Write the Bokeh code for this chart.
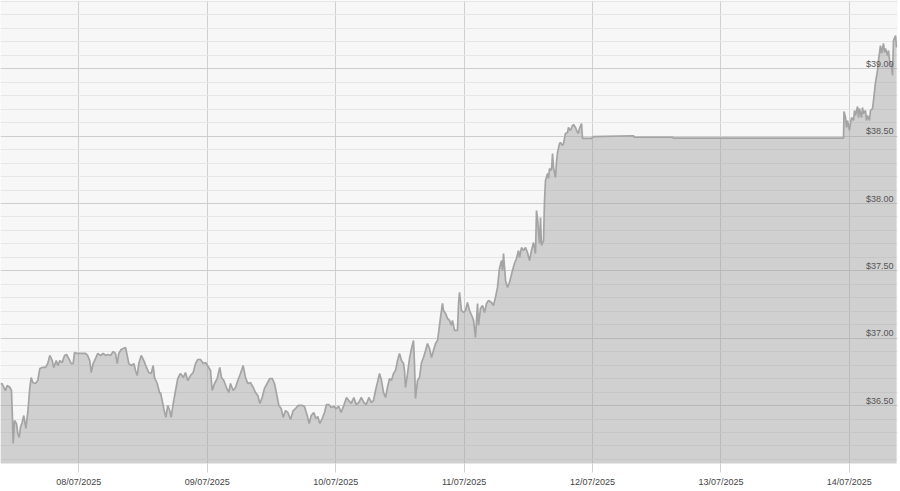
import numpy as np
import pandas as pd
from bokeh.plotting import figure
from bokeh.models import (Range1d, FixedTicker, DatetimeTickFormatter, ColumnDataSource,
                          LabelSet)
from bokeh.core.properties import value
from bokeh.embed import file_html
from bokeh.resources import INLINE

# ---------------- data ----------------
times = [
    "2025-07-07 09:22", "2025-07-07 09:41", "2025-07-07 09:59", "2025-07-07 10:18", "2025-07-07 10:37",
    "2025-07-07 11:06", "2025-07-07 11:25", "2025-07-07 11:37", "2025-07-07 11:44", "2025-07-07 11:59",
    "2025-07-07 12:21", "2025-07-07 12:36", "2025-07-07 12:52", "2025-07-07 13:06", "2025-07-07 13:25",
    "2025-07-07 13:43", "2025-07-07 14:06", "2025-07-07 14:28", "2025-07-07 14:51", "2025-07-07 15:06",
    "2025-07-07 15:24", "2025-07-07 15:54", "2025-07-07 16:20", "2025-07-07 16:43", "2025-07-07 17:10",
    "2025-07-07 17:47", "2025-07-07 18:12", "2025-07-07 18:35", "2025-07-07 19:02", "2025-07-07 19:20",
    "2025-07-07 19:47", "2025-07-07 20:05", "2025-07-07 20:27", "2025-07-07 20:54", "2025-07-07 21:20",
    "2025-07-07 21:42", "2025-07-07 22:08", "2025-07-07 22:35", "2025-07-07 22:57", "2025-07-07 23:12",
    "2025-07-07 23:42", "2025-07-08 00:08", "2025-07-08 00:41", "2025-07-08 01:15", "2025-07-08 01:38",
    "2025-07-08 02:03", "2025-07-08 02:19", "2025-07-08 02:41", "2025-07-08 03:07", "2025-07-08 03:33",
    "2025-07-08 04:03", "2025-07-08 04:34", "2025-07-08 04:59", "2025-07-08 05:25", "2025-07-08 05:55",
    "2025-07-08 06:26", "2025-07-08 06:51", "2025-07-08 07:11", "2025-07-08 07:28", "2025-07-08 07:55",
    "2025-07-08 08:18", "2025-07-08 08:44", "2025-07-08 09:03", "2025-07-08 09:21", "2025-07-08 09:48",
    "2025-07-08 10:17", "2025-07-08 10:36", "2025-07-08 10:55", "2025-07-08 11:13", "2025-07-08 11:40",
    "2025-07-08 12:09", "2025-07-08 12:39", "2025-07-08 13:05", "2025-07-08 13:32", "2025-07-08 13:54",
    "2025-07-08 14:09", "2025-07-08 14:39", "2025-07-08 15:08", "2025-07-08 15:16", "2025-07-08 15:53",
    "2025-07-08 16:16", "2025-07-08 16:38", "2025-07-08 17:00", "2025-07-08 17:16", "2025-07-08 17:39",
    "2025-07-08 18:01", "2025-07-08 18:30", "2025-07-08 19:00", "2025-07-08 19:31", "2025-07-08 19:56",
    "2025-07-08 20:22", "2025-07-08 20:52", "2025-07-08 21:23", "2025-07-08 21:49", "2025-07-08 22:14",
    "2025-07-08 22:45", "2025-07-08 23:15", "2025-07-08 23:41", "2025-07-09 00:03", "2025-07-09 00:37",
    "2025-07-09 00:56", "2025-07-09 01:22", "2025-07-09 01:52", "2025-07-09 02:21", "2025-07-09 02:40",
    "2025-07-09 03:06", "2025-07-09 03:36", "2025-07-09 04:02", "2025-07-09 04:21", "2025-07-09 04:51",
    "2025-07-09 05:17", "2025-07-09 05:43", "2025-07-09 06:13", "2025-07-09 06:43", "2025-07-09 07:09",
    "2025-07-09 07:35", "2025-07-09 08:05", "2025-07-09 08:36", "2025-07-09 09:01", "2025-07-09 09:27",
    "2025-07-09 09:50", "2025-07-09 10:16", "2025-07-09 10:42", "2025-07-09 11:12", "2025-07-09 11:42",
    "2025-07-09 12:09", "2025-07-09 12:34", "2025-07-09 12:57", "2025-07-09 13:23", "2025-07-09 13:49",
    "2025-07-09 14:12", "2025-07-09 14:38", "2025-07-09 15:04", "2025-07-09 15:34", "2025-07-09 16:04",
    "2025-07-09 16:30", "2025-07-09 17:03", "2025-07-09 17:48", "2025-07-09 18:11", "2025-07-09 18:41",
    "2025-07-09 19:03", "2025-07-09 19:26", "2025-07-09 19:55", "2025-07-09 20:18", "2025-07-09 20:40",
    "2025-07-09 21:02", "2025-07-09 21:29", "2025-07-09 21:55", "2025-07-09 22:17", "2025-07-09 22:43",
    "2025-07-09 23:10", "2025-07-09 23:39", "2025-07-10 00:06", "2025-07-10 00:35", "2025-07-10 01:02",
    "2025-07-10 01:31", "2025-07-10 02:02", "2025-07-10 02:27", "2025-07-10 02:54", "2025-07-10 03:24",
    "2025-07-10 03:50", "2025-07-10 04:20", "2025-07-10 04:47", "2025-07-10 05:16", "2025-07-10 05:43",
    "2025-07-10 06:12", "2025-07-10 06:39", "2025-07-10 07:04", "2025-07-10 07:27", "2025-07-10 07:49",
    "2025-07-10 08:12", "2025-07-10 08:34", "2025-07-10 08:57", "2025-07-10 09:19", "2025-07-10 09:41",
    "2025-07-10 10:04", "2025-07-10 10:26", "2025-07-10 10:49", "2025-07-10 11:11", "2025-07-10 11:34",
    "2025-07-10 11:56", "2025-07-10 12:18", "2025-07-10 12:41", "2025-07-10 12:52", "2025-07-10 13:03",
    "2025-07-10 13:26", "2025-07-10 13:48", "2025-07-10 14:11", "2025-07-10 14:33", "2025-07-10 14:44",
    "2025-07-10 14:55", "2025-07-10 15:18", "2025-07-10 15:40", "2025-07-10 16:03", "2025-07-10 16:25",
    "2025-07-10 16:48", "2025-07-10 17:10", "2025-07-10 17:32", "2025-07-10 17:55", "2025-07-10 18:17",
    "2025-07-10 18:40", "2025-07-10 19:02", "2025-07-10 19:13", "2025-07-10 19:36", "2025-07-10 19:58",
    "2025-07-10 20:09", "2025-07-10 20:32", "2025-07-10 20:54", "2025-07-10 21:17", "2025-07-10 21:39",
    "2025-07-10 21:50", "2025-07-10 22:13", "2025-07-10 22:46", "2025-07-10 22:58", "2025-07-10 23:09",
    "2025-07-10 23:31", "2025-07-10 23:54", "2025-07-11 00:16", "2025-07-11 00:38", "2025-07-11 01:01",
    "2025-07-11 01:35", "2025-07-11 01:46", "2025-07-11 02:08", "2025-07-11 02:31", "2025-07-11 02:42",
    "2025-07-11 03:04", "2025-07-11 03:27", "2025-07-11 03:49", "2025-07-11 04:12", "2025-07-11 04:34",
    "2025-07-11 05:08", "2025-07-11 05:30", "2025-07-11 05:52", "2025-07-11 06:15", "2025-07-11 06:37",
    "2025-07-11 07:00", "2025-07-11 07:11", "2025-07-11 07:22", "2025-07-11 07:45", "2025-07-11 08:07",
    "2025-07-11 08:29", "2025-07-11 09:03", "2025-07-11 09:25", "2025-07-11 09:48", "2025-07-11 10:10",
    "2025-07-11 10:22", "2025-07-11 10:44", "2025-07-11 11:06", "2025-07-11 11:29", "2025-07-11 11:51",
    "2025-07-11 12:14", "2025-07-11 12:36", "2025-07-11 12:59", "2025-07-11 13:21", "2025-07-11 13:32",
    "2025-07-11 13:43", "2025-07-11 14:06", "2025-07-11 14:17", "2025-07-11 14:28", "2025-07-11 14:51",
    "2025-07-11 15:02", "2025-07-11 15:13", "2025-07-11 15:36", "2025-07-11 15:47", "2025-07-11 15:58",
    "2025-07-11 16:20", "2025-07-11 16:32", "2025-07-11 16:43", "2025-07-11 17:05", "2025-07-11 17:16",
    "2025-07-11 17:28", "2025-07-11 17:50", "2025-07-11 18:01", "2025-07-11 18:24", "2025-07-11 18:35",
    "2025-07-11 18:57", "2025-07-11 19:20", "2025-07-11 19:31", "2025-07-11 19:53", "2025-07-11 20:16",
    "2025-07-11 20:27", "2025-07-11 20:49", "2025-07-11 21:12", "2025-07-11 21:23", "2025-07-11 21:34",
    "2025-07-11 21:57", "2025-07-11 22:08", "2025-07-11 22:42", "2025-07-11 23:49", "2025-07-12 00:11",
    "2025-07-12 07:40", "2025-07-12 07:51", "2025-07-12 14:57", "2025-07-12 15:08", "2025-07-13 22:55",
    "2025-07-13 23:00", "2025-07-13 23:17", "2025-07-13 23:28", "2025-07-13 23:39", "2025-07-14 00:02",
    "2025-07-14 00:13", "2025-07-14 00:24", "2025-07-14 00:47", "2025-07-14 00:58", "2025-07-14 01:09",
    "2025-07-14 01:32", "2025-07-14 01:43", "2025-07-14 01:54", "2025-07-14 02:16", "2025-07-14 02:28",
    "2025-07-14 02:39", "2025-07-14 03:01", "2025-07-14 03:12", "2025-07-14 03:24", "2025-07-14 03:46",
    "2025-07-14 03:57", "2025-07-14 04:20", "2025-07-14 04:31", "2025-07-14 04:53", "2025-07-14 05:16",
    "2025-07-14 05:27", "2025-07-14 05:49", "2025-07-14 06:01", "2025-07-14 06:23", "2025-07-14 06:34",
    "2025-07-14 06:46", "2025-07-14 07:08", "2025-07-14 07:19", "2025-07-14 07:31", "2025-07-14 07:53",
    "2025-07-14 08:04", "2025-07-14 08:15", "2025-07-14 08:38", "2025-07-14 08:49",
]

prices = [
    36.664, 36.661, 36.636, 36.612, 36.649, 36.636, 36.612, 36.389, 36.219, 36.389,
    36.367, 36.293, 36.263, 36.337, 36.374, 36.426, 36.330, 36.449, 36.634, 36.708,
    36.671, 36.664, 36.686, 36.775, 36.783, 36.783, 36.812, 36.872, 36.834, 36.783,
    36.834, 36.797, 36.834, 36.820, 36.872, 36.879, 36.849, 36.812, 36.812, 36.894,
    36.887, 36.887, 36.887, 36.887, 36.872, 36.834, 36.745, 36.812, 36.849, 36.887,
    36.872, 36.887, 36.872, 36.879, 36.872, 36.901, 36.887, 36.812, 36.887, 36.916,
    36.924, 36.931, 36.872, 36.812, 36.797, 36.812, 36.760, 36.723, 36.812, 36.872,
    36.834, 36.783, 36.745, 36.738, 36.797, 36.708, 36.664, 36.590, 36.597, 36.478,
    36.412, 36.501, 36.463, 36.412, 36.516, 36.597, 36.701, 36.738, 36.708, 36.745,
    36.686, 36.723, 36.745, 36.812, 36.842, 36.842, 36.812, 36.820, 36.797, 36.760,
    36.612, 36.664, 36.701, 36.783, 36.708, 36.686, 36.634, 36.597, 36.664, 36.612,
    36.634, 36.686, 36.738, 36.797, 36.708, 36.664, 36.671, 36.634, 36.597, 36.575,
    36.516, 36.560, 36.627, 36.664, 36.701, 36.701, 36.664, 36.590, 36.501, 36.478,
    36.412, 36.463, 36.449, 36.397, 36.463, 36.478, 36.501, 36.501, 36.493, 36.426,
    36.367, 36.426, 36.449, 36.404, 36.419, 36.367, 36.404, 36.449, 36.508, 36.508,
    36.486, 36.493, 36.478, 36.493, 36.449, 36.501, 36.560, 36.537, 36.516, 36.560,
    36.508, 36.523, 36.560, 36.523, 36.508, 36.560, 36.523, 36.537, 36.612, 36.671,
    36.738, 36.686, 36.597, 36.560, 36.634, 36.701, 36.686, 36.738, 36.760, 36.834,
    36.887, 36.834, 36.812, 36.760, 36.634, 36.738, 36.849, 36.924, 36.983, 36.812,
    36.552, 36.686, 36.708, 36.820, 36.857, 36.909, 36.961, 36.924, 36.857, 36.909,
    36.961, 36.983, 37.035, 37.154, 37.258, 37.206, 37.184, 37.147, 37.132, 37.095,
    37.132, 37.058, 37.058, 37.258, 37.340, 37.206, 37.191, 37.206, 37.265, 37.206,
    37.154, 37.132, 37.006, 37.258, 37.095, 37.221, 37.243, 37.191, 37.258, 37.280,
    37.265, 37.243, 37.303, 37.377, 37.518, 37.577, 37.503, 37.629, 37.429, 37.377,
    37.414, 37.503, 37.555, 37.592, 37.651, 37.599, 37.673, 37.651, 37.673, 37.636,
    37.577, 37.651, 37.710, 37.629, 37.948, 37.896, 37.703, 37.896, 37.688, 37.725,
    38.022, 38.171, 38.223, 38.186, 38.260, 38.245, 38.371, 38.267, 38.193, 38.304,
    38.379, 38.445, 38.453, 38.431, 38.445, 38.520, 38.527, 38.564, 38.542, 38.579,
    38.586, 38.564, 38.527, 38.520, 38.557, 38.594, 38.483, 38.483, 38.483, 38.497,
    38.503, 38.492, 38.492, 38.485, 38.485, 38.683, 38.638, 38.564, 38.616, 38.542,
    38.594, 38.638, 38.616, 38.690, 38.653, 38.720, 38.638, 38.705, 38.638, 38.712,
    38.668, 38.690, 38.616, 38.653, 38.616, 38.690, 38.705, 38.764, 38.898, 38.987,
    39.062, 39.173, 39.114, 39.188, 39.121, 39.151, 39.099, 39.136, 39.062, 39.025,
    38.951, 39.210, 39.247, 39.158,
]

x_tick_dates = ["2025-07-08", "2025-07-09", "2025-07-10", "2025-07-11",
                "2025-07-12", "2025-07-13", "2025-07-14"]
y_ticks = [36.5, 37.0, 37.5, 38.0, 38.5, 39.0]
y_tick_labels = ["$36.50", "$37.00", "$37.50", "$38.00", "$38.50", "$39.00"]
x_start, x_end = "2025-07-07 09:22", "2025-07-14 09:00"
y_start, y_end = 36.07, 39.507

# ---------------- figure ----------------
t = pd.to_datetime(times)
src = ColumnDataSource(dict(t=t, price=prices))

p = figure(frame_width=897, frame_height=463, output_backend="svg", toolbar_location=None,
           x_axis_type="datetime",
           x_range=Range1d(pd.Timestamp(x_start), pd.Timestamp(x_end)),
           y_range=Range1d(y_start, y_end),
           min_border_left=0, min_border_right=3, min_border_top=0, min_border_bottom=0)
p.background_fill_color = "#f7f7f7"
p.border_fill_color = "white"
p.outline_line_color = None

# area + line
p.varea(x="t", y1=0, y2="price", source=src, fill_color="#9a9a9a", fill_alpha=0.42)
p.line(x="t", y="price", source=src, line_color="#a4a4a4", line_width=1.7)

# x axis
tick_ms = [pd.Timestamp(d).value // 10**6 for d in x_tick_dates]
p.xaxis.ticker = FixedTicker(ticks=tick_ms)
fmt = "%d/%m/%Y"
p.xaxis.formatter = DatetimeTickFormatter(days=fmt, months=fmt, hours=fmt, years=fmt,
                                          minutes=fmt, seconds=fmt, milliseconds=fmt,
                                          microseconds=fmt, minsec=fmt, hourmin=fmt,
                                          context=None)
p.xaxis.axis_line_color = None
p.xaxis.major_tick_line_color = "#d0d0d0"
p.xaxis.major_tick_out = 9
p.xaxis.major_tick_in = 0
p.xaxis.minor_tick_line_color = None
p.xaxis.major_label_standoff = 4
p.xaxis.major_label_text_font = "Liberation Sans"
p.xaxis.major_label_text_font_size = "9px"
p.xaxis.major_label_text_color = "#444444"

p.xgrid.grid_line_color = "#d0d0d0"
p.xgrid.grid_line_width = 1

# y axis hidden; grid with major/minor ticks
p.yaxis.visible = False
minor = [round(v, 2) for v in np.arange(36.1, 39.51, 0.1)]
p.ygrid.ticker = FixedTicker(ticks=y_ticks, minor_ticks=minor)
p.ygrid.grid_line_color = "#cdcdcd"
p.ygrid.minor_grid_line_color = "#e6e6e6"

# y tick labels inside the plot, right side
lab_src = ColumnDataSource(dict(y=y_ticks, text=y_tick_labels))
p.add_layout(LabelSet(x=893, y="y", text="text", source=lab_src, x_units="screen",
                      text_align="right", text_baseline="bottom", y_offset=0,
                      text_font=value("Liberation Sans"), text_font_size=value("9px"),
                      text_color=value("#555555")))

html = file_html(p, INLINE)
html = html.replace("</head>", "<style>html,body{margin:0;padding:0;}</style></head>", 1)
open("out.html", "w").write(html)
